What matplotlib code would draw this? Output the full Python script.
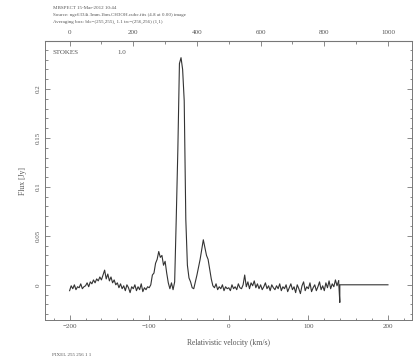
import matplotlib
matplotlib.use("Agg")
import matplotlib.pyplot as plt
import numpy as np
from matplotlib.ticker import MultipleLocator, FixedLocator, FuncFormatter

# spectrum: relativistic velocity grid (km/s), 2 km/s channels from -200 to 138
v_start = -200.0
v_step = 2.0
flux = [
    -0.006, -0.001, -0.004, 0.000, -0.005, -0.002, -0.003, 0.001, -0.004, -0.002,
    -0.001, 0.002, -0.002, 0.003, 0.001, 0.005, 0.002, 0.006, 0.004, 0.008,
    0.005, 0.010, 0.015, 0.006, 0.011, 0.004, 0.008, 0.002, 0.005, 0.000,
    0.002, -0.003, 0.001, -0.004, -0.001, -0.006, 0.000, -0.003, -0.008, -0.002,
    -0.004, 0.000, -0.006, -0.002, -0.005, 0.001, -0.007, -0.003, -0.005, -0.002,
    -0.003, 0.000, 0.010, 0.012, 0.022, 0.026, 0.034, 0.028, 0.030, 0.020,
    0.024, 0.012, 0.002, -0.004, 0.002, -0.005, 0.003, 0.068, 0.138, 0.226,
    0.232, 0.220, 0.188, 0.067, 0.020, 0.007, 0.003, -0.003, -0.004, 0.003,
    0.010, 0.018, 0.026, 0.036, 0.046, 0.038, 0.030, 0.026, 0.016, 0.006,
    -0.001, -0.003, 0.001, -0.005, -0.002, -0.004, 0.000, -0.006, -0.002, -0.004,
    -0.003, -0.006, 0.000, -0.004, -0.002, -0.005, 0.001, -0.003, -0.004, 0.000,
    0.010, -0.002, 0.003, -0.004, 0.002, -0.001, 0.004, -0.003, 0.001, -0.004,
    0.000, -0.005, -0.002, 0.002, -0.004, -0.001, -0.006, 0.000, -0.003, -0.005,
    -0.001, -0.004, 0.001, -0.006, -0.002, -0.004, 0.000, -0.007, -0.003, 0.001,
    -0.005, -0.002, -0.008, 0.000, -0.004, -0.009, -0.001, 0.003, -0.006, -0.002,
    -0.004, 0.002, -0.007, -0.003, 0.000, -0.006, -0.002, 0.003, -0.005, -0.001,
    -0.006, 0.002, -0.003, 0.004, -0.004, 0.001, -0.002, 0.005, -0.001, 0.004,
]
velocity = v_start + v_step * np.arange(len(flux))

# blanked channels past the band edge
tail_v = [138.0, 139.5, 139.5, 200.0]
tail_flux = [0.004, -0.018, 0.0, 0.0]

header = [
    "MBSPECT 15-Mar-2012 10:44",
    "Source: ngc6334i.3mm.1bm.CH3OH.cube.fits (4.8 at 0.00) image",
    "Averaging box: blc=(255,255), 1.1 trc=(256,256) (1,1)",
]
footer = "PIXEL 255 256 1 1"

plt.rcParams['font.family'] = ['Liberation Serif', 'DejaVu Serif']
txt = '#555555'
axc = '#777777'

fig = plt.figure(figsize=(4.16, 3.6), dpi=100)
ax = fig.add_axes([0.108, 0.111, 0.882, 0.775])

ax.plot(velocity, flux, color='#333333', lw=0.8)
ax.plot(tail_v, tail_flux, color='#333333', lw=0.8)

ax.set_xlim(-231, 230)
ax.set_ylim(-0.036, 0.249)

ax.xaxis.set_major_locator(MultipleLocator(100))
ax.xaxis.set_minor_locator(MultipleLocator(20))
ax.yaxis.set_major_locator(MultipleLocator(0.05))
ax.yaxis.set_minor_locator(MultipleLocator(0.01))
ax.yaxis.set_major_formatter(FuncFormatter(lambda y, p: '%g' % round(y, 3)))

for s in ax.spines.values():
    s.set_color(axc)
    s.set_linewidth(0.7)

ax.tick_params(which='both', direction='in', top=False, right=True,
               color=axc, width=0.6, labelsize=5, labelcolor=txt, pad=3)
ax.tick_params(which='major', length=3.5)
ax.tick_params(which='minor', length=1.8)
ax.tick_params(axis='y', labelrotation=90)
for lab in ax.get_yticklabels():
    lab.set_va('center')

# channel numbers along the top
top = ax.secondary_xaxis('top', functions=(lambda v: (v + 200) * 2.5,
                                           lambda c: c / 2.5 - 200))
top.xaxis.set_major_locator(FixedLocator([0, 200, 400, 600, 800, 1000]))
top.xaxis.set_minor_locator(FixedLocator([-100, 100, 300, 500, 700, 900]))
top.spines['top'].set_color(axc)
top.tick_params(which='both', direction='in', color=axc, width=0.6,
                labelsize=5, labelcolor=txt, pad=4)
top.tick_params(which='major', length=3.5)
top.tick_params(which='minor', length=1.8)

ax.set_xlabel('Relativistic velocity (km/s)', fontsize=5.5, color=txt, labelpad=7)
ax.set_ylabel('Flux [Jy]', fontsize=5.5, color=txt, labelpad=6)

ax.text(0.02, 0.955, 'STOKES', transform=ax.transAxes, fontsize=5, color=txt)
ax.text(0.197, 0.955, '1.0', transform=ax.transAxes, fontsize=5, color=txt)

for i, line in enumerate(header):
    fig.text(0.127, 0.982 - i * 0.018, line, fontsize=3.6, color=txt, va='top')
fig.text(0.125, 0.012, footer, fontsize=3.6, color=txt)

fig.savefig('out.png', dpi=100)
